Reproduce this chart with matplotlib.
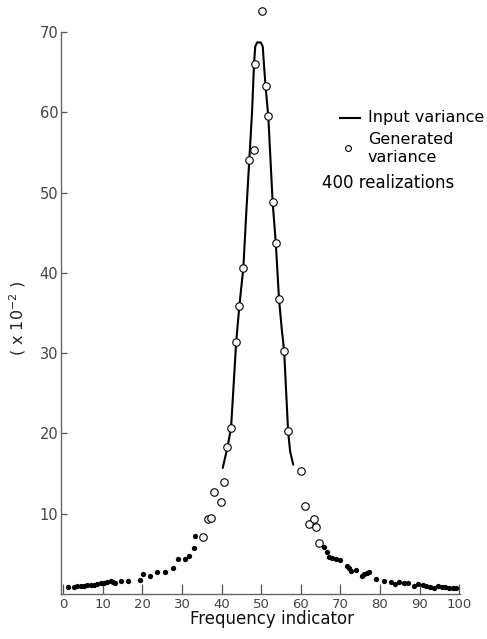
import numpy as np
import matplotlib
matplotlib.use("Agg")
import matplotlib.pyplot as plt

plt.rcParams['font.family'] = ['DejaVu Sans']

# input variance curve (x10^-2)
input_x = [40.3, 41.5, 42.4, 43.7, 44.5, 45.5, 46.3, 47.0, 47.7, 48.2, 48.5, 49.0,
           49.9, 50.4, 50.7, 51.1, 51.8, 52.9, 53.7, 54.5, 55.2, 55.8, 56.8, 57.3, 58.1]
input_y = [15.7, 18.3, 20.7, 31.4, 35.9, 40.6, 48.0, 54.0, 60.0, 66.0, 68.2, 68.7,
           68.7, 68.2, 66.0, 63.3, 59.5, 48.8, 43.7, 36.8, 33.0, 30.3, 20.3, 17.8, 16.1]

# generated variance, open circles (near the peak)
open_x = [35.2, 36.5, 37.3, 38.2, 39.8, 40.7, 41.5, 42.4, 43.7, 44.5, 45.5, 47.0,
          48.2, 48.4, 50.1, 51.1, 51.8, 52.9, 53.7, 54.5, 55.8, 56.8, 60.0, 61.1,
          62.2, 63.3, 63.8, 64.7]
open_y = [7.1, 9.3, 9.5, 12.7, 11.5, 14.0, 18.3, 20.7, 31.4, 35.9, 40.6, 54.0,
          55.3, 66.0, 72.6, 63.3, 59.5, 48.8, 43.7, 36.8, 30.3, 20.3, 15.3, 11.0,
          8.7, 9.3, 8.3, 6.3]

# generated variance, filled dots (tails)
dot_x = [1.3, 2.75, 3.6, 4.4, 5.3, 6.1, 7.0, 7.8, 8.6, 9.5, 10.3, 11.2, 12.0, 12.5,
         13.1, 14.5, 16.5, 19.4, 20.2, 21.9, 23.8, 25.6, 27.8, 29.0, 30.8, 31.9,
         33.1, 33.3,
         65.9, 66.6, 67.2, 68.0, 68.9, 69.9, 71.6, 72.3, 72.8, 73.9, 75.4, 76.0,
         76.6, 77.2, 79.0, 81.0, 82.7, 83.8, 84.9, 86.0, 87.1, 88.6, 89.6, 90.8,
         91.6, 92.6, 93.6, 94.7, 95.6, 96.4, 97.5, 98.5, 99.2]
dot_y = [0.83, 0.91, 0.95, 1.0, 1.03, 1.07, 1.1, 1.15, 1.28, 1.33, 1.41, 1.45, 1.66, 1.53,
         1.41, 1.62, 1.62, 1.74, 2.49, 2.26, 2.78, 2.78, 3.25, 4.3, 4.4, 4.7,
         5.77, 7.26,
         5.8, 5.2, 4.65, 4.5, 4.3, 4.2, 3.5, 3.2, 2.9, 3.0, 2.24, 2.45,
         2.65, 2.78, 1.9, 1.62, 1.53, 1.25, 1.46, 1.33, 1.33, 1.0, 1.25, 1.12,
         1.0, 0.91, 0.78, 1.0, 0.91, 0.83, 0.78, 0.71, 0.75]

x_ticks = [0, 10, 20, 30, 40, 50, 60, 70, 80, 90, 100]
y_ticks = [10, 20, 30, 40, 50, 60, 70]

fig = plt.figure(figsize=(4.87, 6.39), dpi=100)
ax = fig.add_axes([61 / 487, 45 / 639, 399 / 487, 562 / 639])

ax.plot(input_x, input_y, color='black', lw=1.5, zorder=2, solid_capstyle='round')
ax.plot(open_x, open_y, 'o', ms=5.4, mfc='white', mec='black', mew=0.8,
        zorder=3, clip_on=False)
ax.plot(dot_x, dot_y, 'o', ms=3.8, color='black', mew=0, zorder=3)

ax.set_xlim(-0.53, 100.2)
ax.set_ylim(0, 70)
ax.set_xticks(x_ticks)
ax.set_yticks(y_ticks)

for side in ['top', 'right']:
    ax.spines[side].set_visible(False)
for side in ['left', 'bottom']:
    ax.spines[side].set_color('#666666')
    ax.spines[side].set_linewidth(1.0)

ax.tick_params(axis='x', direction='in', length=7, width=0.9, colors='#555555',
               labelsize=9.5, pad=3, labelcolor='#444444')
ax.tick_params(axis='y', direction='in', length=4, width=0.9, colors='#555555',
               labelsize=10.5, pad=2, labelcolor='#444444')

ax.set_xlabel('Frequency indicator', fontsize=12, color='#111111')
ax.xaxis.set_label_coords(0.529, -0.028)
ax.set_ylabel('( x 10$^{-2}$ )', fontsize=11.5, color='#222222')
ax.yaxis.set_label_coords(-0.083, 0.49)

# key
ax.plot([0.699, 0.749], [0.847, 0.847], color='black', lw=1.5,
        transform=ax.transAxes, clip_on=False)
ax.text(0.769, 0.847, 'Input variance', transform=ax.transAxes,
        fontsize=11.5, va='center', ha='left')
ax.plot([0.719], [0.794], 'o', ms=4.2, mfc='white', mec='black', mew=0.8,
        transform=ax.transAxes, clip_on=False)
ax.text(0.769, 0.809, 'Generated', transform=ax.transAxes,
        fontsize=11.5, va='center', ha='left')
ax.text(0.769, 0.777, 'variance', transform=ax.transAxes,
        fontsize=11.5, va='center', ha='left')
ax.text(0.654, 0.731, '400 realizations', transform=ax.transAxes,
        fontsize=12, va='center', ha='left')

fig.savefig('out.png', dpi=100)
